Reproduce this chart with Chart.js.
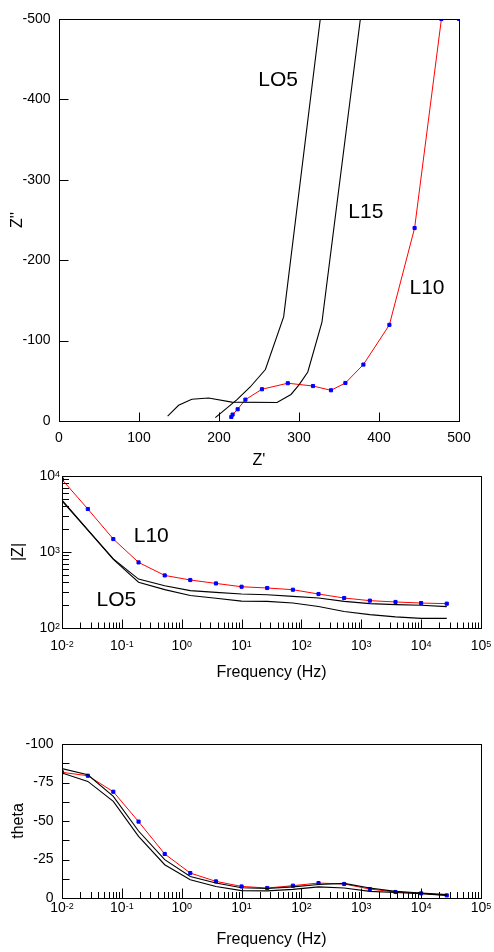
<!DOCTYPE html>
<html>
<head>
<meta charset="utf-8">
<script src="https://cdn.jsdelivr.net/npm/chart.js@4.4.1/dist/chart.umd.min.js"></script>
<style>
  html, body { margin: 0; padding: 0; background: #fff; }
  body { width: 494px; height: 952px; position: relative; overflow: hidden; }
  canvas { position: absolute; left: 0; }
</style>
</head>
<body>
<canvas id="nyq" width="494" height="480" style="top:0px"></canvas>
<canvas id="mag" width="494" height="230" style="top:460px"></canvas>
<canvas id="phase" width="494" height="252" style="top:700px"></canvas>
<script>
// Nyquist plot, Z' vs Z''
const l10Re = [215.4, 217, 223.3, 233, 253.7, 286, 317.5, 340, 358, 380.5, 413, 444.5, 478, 500];
const l10Im = [-5, -8, -14.6, -26.6, -39.5, -47, -43.5, -38.2, -47.3, -70.2, -119.6, -240, -500, -500];
const l15Re = [135.8, 149.5, 166, 187, 216, 272.5, 290, 300, 311, 328.7, 376.7];
const l15Im = [-6, -19.5, -27, -28.6, -23.5, -23, -33, -45, -61, -123, -500];
const lo5Re = [195.4, 222.5, 239, 258, 280.8, 326.6];
const lo5Im = [-4.2, -26.6, -42.3, -64, -129.5, -500];

// Bode plots
const freq = [0.01, 0.027, 0.072, 0.19, 0.52, 1.39, 3.73, 10, 26.8, 72, 193, 518, 1390, 3730, 10000, 26800];
const l10Mag = [9000, 3680, 1480, 730, 492, 428, 386, 349, 336, 319, 280, 248, 229, 220, 213, 209];
const l15Mag = [4800, 1960, 810, 440, 360, 310, 294, 280, 274, 261, 248, 224, 209, 203, 199, 191];
const lo5Mag = [4700, 1940, 800, 400, 320, 268, 246, 226, 224, 213, 192, 165, 150, 140, 134, 134];
const l10Phase = [-81.6, -79.4, -69, -49.6, -28.6, -16.2, -10.8, -7.5, -6.5, -8, -9.7, -9.1, -5.8, -3.9, -3, -1.7];
const l15Phase = [-84, -80, -66, -43.5, -24.9, -14, -9.7, -6.7, -6.2, -7.2, -8.8, -9.5, -6.5, -4.3, -3.2, -2.2];
const lo5Phase = [-81.2, -75.7, -62.7, -40, -21.6, -11.9, -7.5, -4.8, -4.6, -5.6, -7.2, -6.5, -4.3, -3.6, -2.8, -1.7];

// tick labels
const nyqXLabels = [0, 100, 200, 300, 400, 500];
const nyqYLabels = [0, -100, -200, -300, -400, -500];
const freqExps = [-2, -1, 0, 1, 2, 3, 4, 5];
const magExps = [2, 3, 4];
const phaseLabels = [0, -25, -50, -75, -100];

const FONT = "'Liberation Sans', Arial, Helvetica, sans-serif";

const pts = (xs, ys) => xs.map((v, i) => ({ x: v, y: ys[i] }));

const blackLine = { showLine: true, borderColor: "#000", borderWidth: 1.1, pointRadius: 0, fill: false, tension: 0 };
const redLine = {
  showLine: true, borderColor: "#ff0000", borderWidth: 1, fill: false, tension: 0,
  pointStyle: "rect", pointRadius: 2.2, pointBackgroundColor: "#0000ff",
  pointBorderColor: "#0000ff", pointBorderWidth: 1
};

function drawLabel(ctx, text, exp, x, y, align) {
  ctx.font = `14px ${FONT}`;
  const w1 = ctx.measureText(text).width;
  let w2 = 0;
  if (exp !== undefined) {
    ctx.font = `9px ${FONT}`;
    w2 = ctx.measureText(exp).width;
  }
  const x0 = align === "center" ? x - (w1 + w2) / 2 : x - (w1 + w2);
  ctx.textAlign = "left";
  ctx.textBaseline = "middle";
  ctx.font = `14px ${FONT}`;
  ctx.fillText(text, x0, y);
  if (exp !== undefined) {
    ctx.font = `9px ${FONT}`;
    ctx.textBaseline = "alphabetic";
    ctx.fillText(exp, x0 + w1, y + 0.5);
  }
}

// frame, inward ticks, tick labels, titles and curve names
function makeDeco(o) {
  return {
    id: "deco",
    afterDatasetsDraw(chart) {
      const { ctx, chartArea: a, scales: { x, y } } = chart;
      const L = Math.floor(a.left) + 0.5, R = Math.floor(a.right) + 0.5;
      const T = Math.floor(a.top) + 0.5, B = Math.floor(a.bottom) + 0.5;
      ctx.save();
      ctx.strokeStyle = "#000";
      ctx.lineWidth = 1;
      ctx.strokeRect(L, T, R - L, B - T);
      ctx.beginPath();
      o.xTicks.forEach(t => {
        const px = Math.round(x.getPixelForValue(t.v)) + 0.5;
        ctx.moveTo(px, B); ctx.lineTo(px, B - t.len);
      });
      o.yTicks.forEach(t => {
        const py = Math.round(y.getPixelForValue(t.v)) + 0.5;
        ctx.moveTo(L, py); ctx.lineTo(L + t.len, py);
      });
      ctx.stroke();

      ctx.fillStyle = "#000";
      o.xLabels.forEach(l => drawLabel(ctx, l.text, l.exp, x.getPixelForValue(l.v), a.bottom + o.xLabelDy, "center"));
      o.yLabels.forEach(l => drawLabel(ctx, l.text, l.exp, a.left - o.yLabelDx, y.getPixelForValue(l.v), "right"));

      ctx.font = `16px ${FONT}`;
      ctx.textAlign = "center";
      ctx.textBaseline = "middle";
      ctx.fillText(o.xTitle, (a.left + a.right) / 2, a.bottom + o.xTitleDy);
      ctx.save();
      ctx.translate(o.yTitleX, (a.top + a.bottom) / 2);
      ctx.rotate(-Math.PI / 2);
      ctx.fillText(o.yTitle, 0, 0);
      ctx.restore();

      ctx.font = `21px ${FONT}`;
      o.notes.forEach(n => ctx.fillText(n.text, x.getPixelForValue(n.x), y.getPixelForValue(n.y)));
      ctx.restore();
    }
  };
}

function baseOptions(pad, xScale, yScale) {
  return {
    responsive: false,
    animation: false,
    events: [],
    layout: { padding: pad },
    plugins: { legend: { display: false }, tooltip: { enabled: false } },
    scales: { x: xScale, y: yScale }
  };
}

const hidden = { grid: { display: false }, border: { display: false }, ticks: { display: false } };

// log-axis minor/major ticks
function logTicks(from, to, major, minor) {
  const out = [];
  for (let k = from; k < to; k++) {
    for (let m = 1; m <= 9; m++) out.push({ v: m * Math.pow(10, k), len: m === 1 ? major : minor });
  }
  return out;
}
const expLabel = e => ({ v: Math.pow(10, e), text: "10", exp: String(e) });

// ---- Nyquist ----
new Chart(document.getElementById("nyq"), {
  type: "scatter",
  data: {
    datasets: [
      { data: pts(lo5Re, lo5Im), ...blackLine },
      { data: pts(l15Re, l15Im), ...blackLine },
      { data: pts(l10Re, l10Im), ...redLine }
    ]
  },
  options: baseOptions(
    { top: 19, right: 35, left: 0, bottom: 0 },
    { type: "linear", min: 0, max: 500, ...hidden, afterFit(s) { s.height = 59; } },
    { type: "linear", min: -500, max: 0, reverse: true, ...hidden, afterFit(s) { s.width = 59; } }
  ),
  plugins: [makeDeco({
    xTicks: [100, 200, 300, 400].map(v => ({ v, len: 9 })),
    yTicks: [-100, -200, -300, -400].map(v => ({ v, len: 9 })),
    xLabels: nyqXLabels.map(v => ({ v, text: String(v) })),
    yLabels: nyqYLabels.map(v => ({ v, text: String(v) })),
    xLabelDy: 17, yLabelDx: 8.5,
    xTitle: "Z'", xTitleDy: 40,
    yTitle: "Z''", yTitleX: 18,
    notes: [
      { text: "LO5", x: 274, y: -424 },
      { text: "L15", x: 383.5, y: -260 },
      { text: "L10", x: 460, y: -165 }
    ]
  })]
});

// ---- |Z| ----
new Chart(document.getElementById("mag"), {
  type: "scatter",
  data: {
    datasets: [
      { data: pts(freq, lo5Mag), ...blackLine },
      { data: pts(freq, l15Mag), ...blackLine },
      { data: pts(freq, l10Mag), ...redLine }
    ]
  },
  options: baseOptions(
    { top: 16, right: 13, left: 0, bottom: 0 },
    { type: "logarithmic", min: 0.01, max: 100000, ...hidden, afterFit(s) { s.height = 62; } },
    { type: "logarithmic", min: 100, max: 10000, ...hidden, afterFit(s) { s.width = 62; } }
  ),
  plugins: [makeDeco({
    xTicks: logTicks(-2, 5, 9, 6),
    yTicks: logTicks(2, 4, 9, 6.5),
    xLabels: freqExps.map(expLabel),
    yLabels: magExps.map(expLabel),
    xLabelDy: 18, yLabelDx: 2,
    xTitle: "Frequency (Hz)", xTitleDy: 44.5,
    yTitle: "|Z|", yTitleX: 19,
    notes: [
      { text: "L10", x: 0.31, y: 1615 },
      { text: "LO5", x: 0.081, y: 229 }
    ]
  })]
});

// ---- theta ----
new Chart(document.getElementById("phase"), {
  type: "scatter",
  data: {
    datasets: [
      { data: pts(freq, lo5Phase), ...blackLine },
      { data: pts(freq, l15Phase), ...blackLine },
      { data: pts(freq, l10Phase), ...redLine }
    ]
  },
  options: baseOptions(
    { top: 44, right: 13, left: 0, bottom: 0 },
    { type: "logarithmic", min: 0.01, max: 100000, ...hidden, afterFit(s) { s.height = 54; } },
    { type: "linear", min: -100, max: 0, reverse: true, ...hidden, afterFit(s) { s.width = 62; } }
  ),
  plugins: [makeDeco({
    xTicks: logTicks(-2, 5, 10, 6.5),
    yTicks: [-87.5, -75, -62.5, -50, -37.5, -25, -12.5].map(v => ({ v, len: 7 })),
    xLabels: freqExps.map(expLabel),
    yLabels: phaseLabels.map(v => ({ v, text: String(v) })),
    xLabelDy: 10.5, yLabelDx: 8.5,
    xTitle: "Frequency (Hz)", xTitleDy: 42,
    yTitle: "theta", yTitleX: 18.5,
    notes: []
  })]
});
</script>
</body>
</html>
